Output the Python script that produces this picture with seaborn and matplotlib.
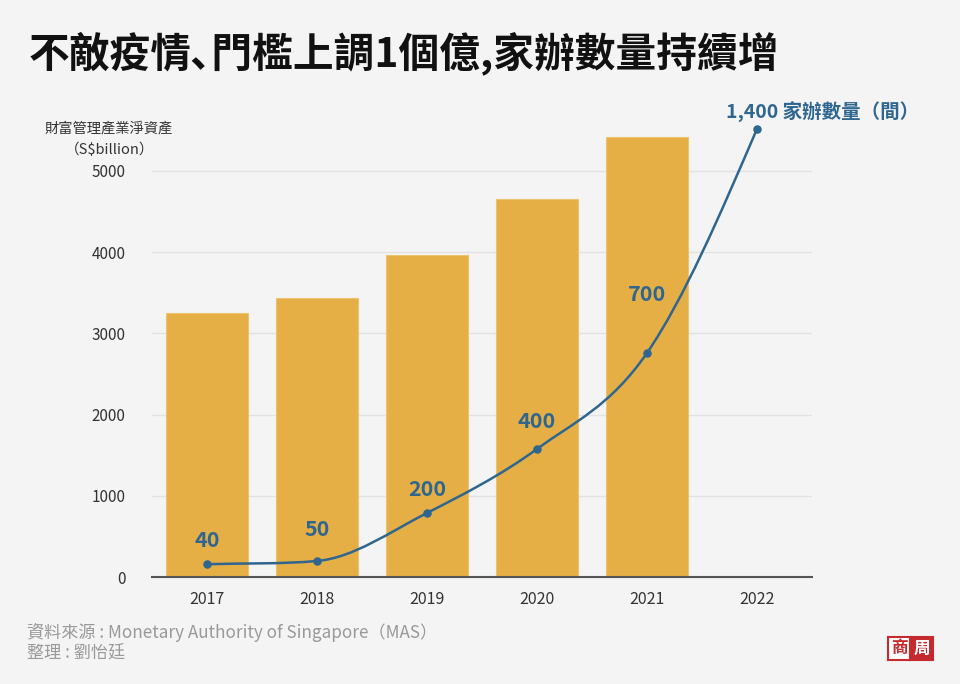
import matplotlib
matplotlib.use("Agg")
import matplotlib.pyplot as plt
import seaborn as sns
import numpy as np
import pandas as pd
from matplotlib.path import Path
from matplotlib.patches import PathPatch, Rectangle

years = ["2017", "2018", "2019", "2020", "2021", "2022"]
assets = [3250, 3440, 3970, 4650, 5420, None]
offices = [40, 50, 200, 400, 700, 1400]
office_labels = ["40", "50", "200", "400", "700", "1,400 家辦數量（間）"]
yticks = [0, 1000, 2000, 3000, 4000, 5000]

BG = "#f4f4f4"
BAR = "#e5af45"
BLUE = "#2f6690"

sns.set_theme(style="white")
plt.rcParams["font.family"] = ["Noto Sans CJK TC", "DejaVu Sans"]

df = pd.DataFrame({"year": years, "assets": assets})

fig = plt.figure(figsize=(9.6, 6.84), dpi=100, facecolor=BG)
ax = fig.add_axes([152 / 960, 107 / 684, 660 / 960, 467 / 684])
ax.set_facecolor(BG)

sns.barplot(data=df, x="year", y="assets", color=BAR, width=0.75,
            saturation=1, ax=ax, zorder=2, edgecolor="#edc270", linewidth=0.8)
ax.set_xlim(-0.5, 5.5)
ax.set_ylim(0, 5751)
ax.set_yticks(yticks)
ax.set_yticklabels([str(t) for t in yticks], fontsize=11, color="#333333")
ax.tick_params(axis="y", length=0, pad=19)
ax.tick_params(axis="x", length=0, pad=10, labelsize=11.5, labelcolor="#333333")
ax.grid(axis="y", color="#e2e2e2", linewidth=1, zorder=0)
ax.set_xlabel("")
ax.set_ylabel("")
for s in ["top", "right", "left"]:
    ax.spines[s].set_visible(False)
ax.spines["bottom"].set_color("#555555")
ax.spines["bottom"].set_linewidth(1.5)
ax.spines["bottom"].set_zorder(5)

# line on a second scale, smooth curve through the points
ax2 = ax.twinx()
ax2.set_ylim(0, 1459)
ax2.axis("off")
xs = np.arange(len(offices), dtype=float)
ys = np.array(offices, dtype=float)
d = np.diff(ys) / np.diff(xs)
m = np.zeros_like(ys)
for i in range(1, len(ys) - 1):
    m[i] = min((ys[i + 1] - ys[i - 1]) / 2, 3 * min(d[i - 1], d[i]))
m[0] = d[0]
m[-1] = d[-1] + (d[-1] - m[-2]) / 2
verts = [(xs[0], ys[0])]
codes = [Path.MOVETO]
for i in range(len(xs) - 1):
    h = xs[i + 1] - xs[i]
    verts += [(xs[i] + h / 3, ys[i] + m[i] * h / 3),
              (xs[i + 1] - h / 3, ys[i + 1] - m[i + 1] * h / 3),
              (xs[i + 1], ys[i + 1])]
    codes += [Path.CURVE4] * 3
ax2.add_patch(PathPatch(Path(verts, codes), facecolor="none", edgecolor=BLUE,
                        linewidth=1.8, zorder=4, clip_on=False))
ax2.scatter(xs, ys, s=26, color=BLUE, zorder=5, clip_on=False)

label_offsets = [(0, 17), (0, 23), (0, 17), (0, 20), (0, 42)]
for i, (lab, off) in enumerate(zip(office_labels[:-1], label_offsets)):
    ax2.annotate(lab, (xs[i], ys[i]), xytext=off, textcoords="offset points",
                 ha="center", va="center", fontsize=15.5, fontweight="semibold",
                 color=BLUE)
ax2.annotate(office_labels[-1], (xs[-1], ys[-1]), xytext=(-22, 12),
             textcoords="offset points", ha="left", va="center",
             fontsize=14, fontweight="semibold", color=BLUE)

# y axis title
fig.text(109 / 960, 1 - 128 / 684, "財富管理產業淨資產", ha="center", va="center",
         fontsize=10.3, color="#333333")
fig.text(110 / 960, 1 - 150 / 684, "（S$billion）", ha="center", va="center",
         fontsize=10.5, color="#333333")

# title
fig.text(29 / 960, 1 - 53 / 684, "不敵疫情､門檻上調1個億,家辦數量持續增",
         ha="left", va="center", fontsize=29.3, fontweight="black", color="#111111")

# source
fig.text(27 / 960, 1 - 632 / 684, "資料來源 : Monetary Authority of Singapore（MAS）",
         ha="left", va="center", fontsize=12.3, color="#999999")
fig.text(27 / 960, 1 - 653 / 684, "整理 : 劉怡廷",
         ha="left", va="center", fontsize=12.3, color="#999999")

# logo
red = "#c52a2f"
fig.patches.append(Rectangle((888 / 960, 1 - 660 / 684), 22 / 960, 23 / 684,
                             transform=fig.transFigure, facecolor="white",
                             edgecolor=red, linewidth=1.5))
fig.patches.append(Rectangle((910 / 960, 1 - 660 / 684), 23 / 960, 23 / 684,
                             transform=fig.transFigure, facecolor=red,
                             edgecolor=red, linewidth=1.5))
fig.text(899 / 960, 1 - 648.5 / 684, "商", ha="center", va="center",
         fontsize=12, fontweight="bold", color=red)
fig.text(921.5 / 960, 1 - 648.5 / 684, "周", ha="center", va="center",
         fontsize=12, fontweight="bold", color="white")

fig.savefig("out.png", dpi=100, facecolor=BG)
